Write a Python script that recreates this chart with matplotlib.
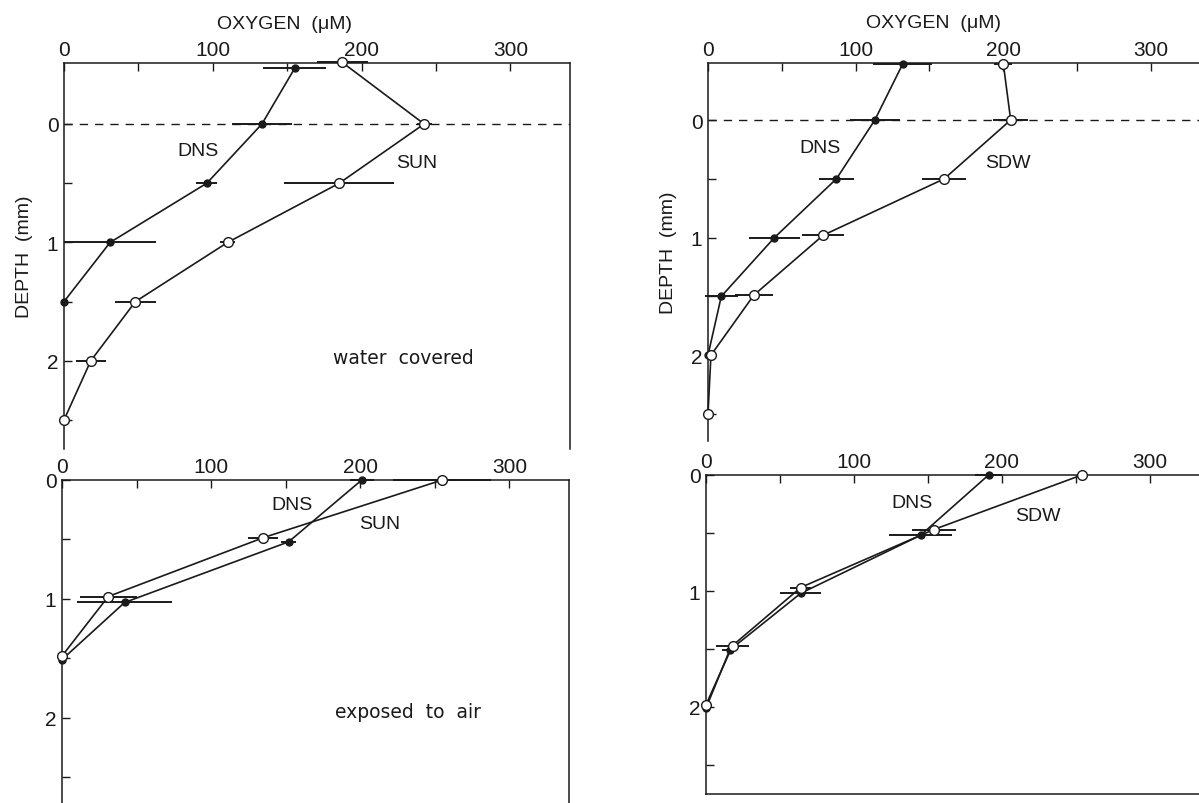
import matplotlib
matplotlib.use("Agg")
import matplotlib.pyplot as plt
import numpy as np

plt.rcParams['font.family'] = ['Liberation Sans', 'DejaVu Sans']

# ---------------- data ----------------
# Top-left: water covered, DNS vs SUN
tl_dns_depth = [-0.47, 0.0, 0.5, 1.0, 1.5]
tl_dns_o2 = [155, 133, 96, 31, 0]
tl_dns_err = [21, 20, 7, 31, 0]
tl_sun_depth = [-0.52, 0.0, 0.5, 1.0, 1.5, 2.0, 2.5]
tl_sun_o2 = [187, 242, 185, 110, 48, 18, 0]
tl_sun_err = [17, 5, 37, 5, 14, 10, 0]

# Top-right: water covered, DNS vs SDW
tr_dns_depth = [-0.48, 0.0, 0.5, 1.0, 1.5, 2.0]
tr_dns_o2 = [132, 113, 87, 45, 9, 0]
tr_dns_err = [20, 17, 12, 17, 11, 0]
tr_sdw_depth = [-0.48, 0.0, 0.5, 0.98, 1.49, 2.0, 2.5]
tr_sdw_o2 = [200, 205, 160, 78, 31, 2, 0]
tr_sdw_err = [6, 12, 15, 14, 13, 3, 0]

# Bottom-left: exposed to air, DNS vs SUN
bl_dns_depth = [0.0, 0.52, 1.03, 1.51]
bl_dns_o2 = [201, 152, 42, 0]
bl_dns_err = [8, 5, 32, 0]
bl_sun_depth = [0.0, 0.485, 0.98, 1.48]
bl_sun_o2 = [255, 135, 31, 0]
bl_sun_err = [33, 10, 19, 0]

# Bottom-right: exposed to air, DNS vs SDW
br_dns_depth = [0.0, 0.52, 1.02, 1.51, 2.01]
br_dns_o2 = [191, 145, 64, 16, 0]
br_dns_err = [9, 21, 14, 5, 0]
br_sdw_depth = [0.0, 0.47, 0.97, 1.47, 1.98]
br_sdw_o2 = [254, 154, 64, 18, 0]
br_sdw_err = [3, 15, 7, 11, 0]

x_ticks_major = [0, 100, 200, 300]
x_ticks_all = [0, 50, 100, 150, 200, 250, 300]
y_ticks_all = [0, 0.5, 1.0, 1.5, 2.0, 2.5]
y_ticks_labeled = [0, 1, 2]

# ---------------- figure ----------------
W, H = 1199, 804
fig = plt.figure(figsize=(W / 100, H / 100), dpi=100)


def pos(x0, x1, y0, y1):
    return [x0 / W, 1 - y1 / H, (x1 - x0) / W, (y1 - y0) / H]


ax_tl = fig.add_axes(pos(64, 570, 64, 450))
ax_tr = fig.add_axes(pos(708, 1210, 64, 442))
ax_bl = fig.add_axes(pos(62, 569, 481, 808))
ax_br = fig.add_axes(pos(706, 1209, 476, 795))

LC = '#1a1a1a'
WIDE = ['DejaVu Sans']


def style(ax, ylim):
    ax.set_xlim(0, 340)
    ax.set_ylim(*ylim)
    ax.xaxis.tick_top()
    ax.set_xticks(x_ticks_all)
    ax.set_xticklabels([str(v) if v in x_ticks_major else '' for v in x_ticks_all])
    ax.set_yticks(y_ticks_all)
    ax.set_yticklabels([str(int(v)) if v in y_ticks_labeled else '' for v in y_ticks_all])
    ax.tick_params(direction='in', length=6, width=1.0, labelsize=15, pad=4, colors=LC)
    ax.tick_params(axis='x', pad=3)
    for s in ax.spines.values():
        s.set_linewidth(1.1)
        s.set_color(LC)


def series(ax, o2, depth, err, filled):
    ax.errorbar(o2, depth, xerr=err, fmt='none', ecolor=LC, elinewidth=1.4,
                capsize=0, zorder=2, clip_on=False)
    if filled:
        ax.plot(o2, depth, '-', color=LC, lw=1.2, marker='o', ms=5,
                mfc=LC, mec=LC, zorder=3, clip_on=False)
    else:
        ax.plot(o2, depth, '-', color=LC, lw=1.2, marker='o', ms=7,
                mfc='white', mec=LC, mew=1.0, zorder=4, clip_on=False)


# Top-left
style(ax_tl, (2.745, -0.515))
ax_tl.spines['bottom'].set_visible(False)
ax_tl.axhline(0, color=LC, lw=1.0, ls=(0, (6, 5)), zorder=1)
series(ax_tl, tl_dns_o2, tl_dns_depth, tl_dns_err, True)
series(ax_tl, tl_sun_o2, tl_sun_depth, tl_sun_err, False)
ax_tl.text(90, 0.225, 'DNS', fontsize=14, ha='center', va='center', color=LC)
ax_tl.text(237, 0.325, 'SUN', fontsize=14, ha='center', va='center', color=LC)
ax_tl.text(228, 1.97, 'water  covered', fontsize=13.5, family=WIDE,
           ha='center', va='center', color=LC)
ax_tl.text(148, -0.85, 'OXYGEN  (μM)', fontsize=14, ha='center', va='center', color=LC)
ax_tl.set_ylabel('DEPTH  (mm)', fontsize=14, color=LC, labelpad=10)

# Top-right
style(ax_tr, (2.73, -0.485))
ax_tr.spines['bottom'].set_visible(False)
ax_tr.axhline(0, color=LC, lw=1.0, ls=(0, (6, 5)), zorder=1)
series(ax_tr, tr_dns_o2, tr_dns_depth, tr_dns_err, True)
series(ax_tr, tr_sdw_o2, tr_sdw_depth, tr_sdw_err, False)
ax_tr.text(76, 0.235, 'DNS', fontsize=14, ha='center', va='center', color=LC)
ax_tr.text(203, 0.36, 'SDW', fontsize=14, ha='center', va='center', color=LC)
ax_tr.text(153, -0.83, 'OXYGEN  (μM)', fontsize=14, ha='center', va='center', color=LC)
ax_tr.set_ylabel('DEPTH  (mm)', fontsize=14, color=LC, labelpad=10)

# Bottom-left
style(ax_bl, (2.75, 0))
ax_bl.spines['bottom'].set_visible(False)
series(ax_bl, bl_dns_o2, bl_dns_depth, bl_dns_err, True)
series(ax_bl, bl_sun_o2, bl_sun_depth, bl_sun_err, False)
ax_bl.text(154, 0.21, 'DNS', fontsize=14, ha='center', va='center', color=LC)
ax_bl.text(213, 0.365, 'SUN', fontsize=14, ha='center', va='center', color=LC)
ax_bl.text(232, 1.95, 'exposed  to  air', fontsize=13.5, family=WIDE,
           ha='center', va='center', color=LC)

# Bottom-right
style(ax_br, (2.75, 0))
series(ax_br, br_dns_o2, br_dns_depth, br_dns_err, True)
series(ax_br, br_sdw_o2, br_sdw_depth, br_sdw_err, False)
ax_br.text(139, 0.235, 'DNS', fontsize=14, ha='center', va='center', color=LC)
ax_br.text(224, 0.35, 'SDW', fontsize=14, ha='center', va='center', color=LC)

fig.savefig('out.png', dpi=100)
